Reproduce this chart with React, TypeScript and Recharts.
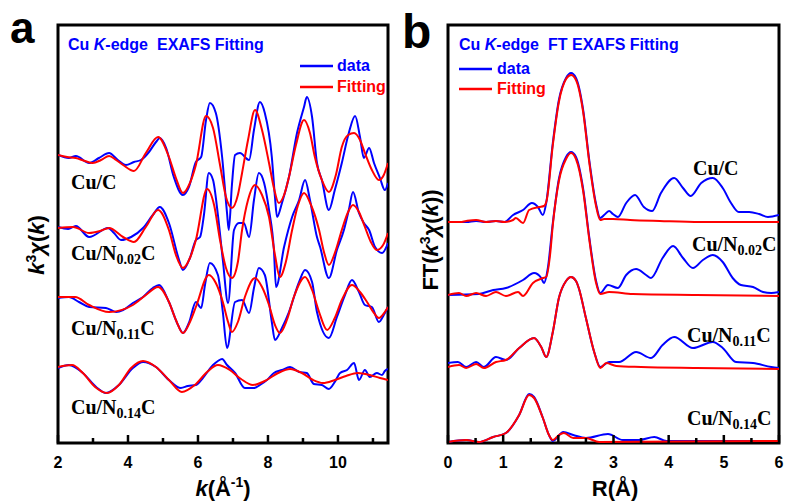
import React from 'react';
import { LineChart, Line, XAxis, YAxis, ReferenceArea } from 'recharts';

const BLUE = '#0000ff';
const RED = '#ff0000';
const SANS = "'Liberation Sans', Arial, sans-serif";
const SERIF = "'Liberation Serif', 'Times New Roman', serif";

// ---- panel a: k-space, [k, k3chi] relative to each trace's own baseline ----
const kTicks = [2, 3, 4, 5, 6, 7, 8, 9, 10, 11];
const kOffsets = [288, 215, 146, 75]; // Cu/C, Cu/N0.02C, Cu/N0.11C, Cu/N0.14C

const cuC_dataK = [
  [2.0, 0], [2.31, -3], [2.51, -1], [2.89, -8], [3.17, -3], [3.46, 2], [3.71, -5], [3.94, -10],
  [4.17, -7], [4.37, -5], [4.6, 3], [4.8, 13], [4.91, 17], [5.09, 7], [5.31, -22], [5.57, -40],
  [5.74, -32], [5.94, -7], [6.09, -2], [6.23, 35], [6.34, 52], [6.51, 42], [6.69, -2], [6.83, -58],
  [6.88, -75], [6.97, -30], [7.06, 0], [7.2, 2], [7.46, -5], [7.6, 25], [7.77, 53], [7.91, 42],
  [8.11, -2], [8.2, -42], [8.26, -62], [8.4, -48], [8.6, -22], [8.83, 22], [9.03, 48], [9.11, 58],
  [9.26, 38], [9.4, -8], [9.54, -25], [9.74, -55], [9.91, -35], [10.11, -8], [10.31, 22], [10.49, 39],
  [10.63, 18], [10.74, -3], [10.89, 7], [11.03, -8], [11.2, -23], [11.34, -35], [11.43, -28],
];
const cuC_fitK = [
  [2.0, 0], [2.26, -2], [2.51, -3], [2.77, -6], [2.99, -8], [3.23, -5], [3.46, -1], [3.66, -5],
  [3.86, -10], [4.17, -16], [4.51, 2], [4.86, 18], [5.17, -2], [5.37, -23], [5.57, -38], [5.77, -28],
  [5.94, -10], [6.23, 39], [6.43, 27], [6.63, -10], [6.8, -42], [6.97, -53], [7.14, -40], [7.26, -18],
  [7.43, 15], [7.63, 45], [7.83, 25], [8.03, -8], [8.17, -33], [8.31, -48], [8.46, -40], [8.6, -22],
  [8.8, 10], [9.03, 35], [9.2, 22], [9.34, -2], [9.54, -25], [9.74, -37], [9.94, -20], [10.11, 8],
  [10.29, 20], [10.46, 22], [10.63, 15], [10.77, 2], [10.97, -15], [11.17, -25], [11.31, -20], [11.43, -8],
];
const cuN002_dataK = [
  [2.0, 1], [2.29, -1], [2.51, 2], [2.89, -9], [3.43, 0], [3.6, -5], [3.8, -12], [4.09, -9],
  [4.43, 0], [4.71, 13], [4.91, 21], [5.17, 5], [5.46, -32], [5.57, -42], [5.77, -30], [5.94, -12],
  [6.06, -9], [6.17, 13], [6.31, 55], [6.43, 48], [6.57, 13], [6.71, -32], [6.86, -75], [7.03, -2],
  [7.17, 5], [7.31, 5], [7.46, -9], [7.6, 28], [7.74, 55], [7.89, 45], [8.03, 18], [8.17, -22],
  [8.23, -59], [8.46, -19], [8.69, 11], [8.89, 28], [9.06, 48], [9.2, 28], [9.4, -9], [9.49, -19],
  [9.74, -50], [9.97, -22], [10.17, -2], [10.31, 18], [10.43, 36], [10.6, 15], [10.74, 5], [10.89, -2],
  [11.06, -19], [11.26, -25], [11.43, -15],
];
const cuN002_fitK = [
  [2.0, 0], [2.43, 1], [2.89, -5], [3.2, -3], [3.46, 0], [3.86, -9], [4.17, -14], [4.51, 1],
  [4.86, 18], [5.17, -2], [5.37, -27], [5.57, -40], [5.77, -30], [5.94, -12], [6.26, 39], [6.46, 23],
  [6.63, -12], [6.8, -40], [6.97, -50], [7.14, -34], [7.26, -2], [7.43, 28], [7.63, 43], [7.83, 33],
  [8.03, 11], [8.2, -27], [8.34, -49], [8.51, -34], [8.69, -2], [8.86, 23], [9.03, 35], [9.23, 23],
  [9.46, -2], [9.6, -24], [9.74, -37], [9.94, -22], [10.11, -2], [10.29, 16], [10.43, 23], [10.6, 16],
  [10.77, 1], [10.94, -14], [11.11, -22], [11.29, -17], [11.43, -5],
];
const cuN011_dataK = [
  [2.0, -1], [2.31, 0], [2.6, -5], [2.89, -10], [3.37, -11], [3.66, -15], [3.86, -13], [4.14, -6],
  [4.43, 0], [4.71, 9], [4.89, 12], [5.17, -5], [5.43, -28], [5.57, -36], [5.74, -26], [5.94, -5],
  [6.09, -11], [6.2, 12], [6.34, 34], [6.57, 22], [6.71, -15], [6.83, -51], [7.06, -5], [7.26, -3],
  [7.46, -16], [7.6, 9], [7.74, 29], [7.91, 22], [8.11, -25], [8.2, -43], [8.4, -31], [8.6, -15],
  [8.89, 15], [9.06, 27], [9.26, 15], [9.4, -15], [9.74, -41], [9.97, -20], [10.2, 2], [10.4, 17],
  [10.6, 5], [10.77, -8], [10.97, -10], [11.17, -25], [11.31, -18], [11.43, -10],
];
const cuN011_fitK = [
  [2.0, 0], [2.49, 0], [2.89, -8], [3.46, -15], [4.14, -8], [4.51, 2], [4.86, 10], [5.17, -5],
  [5.37, -23], [5.57, -36], [5.77, -25], [5.94, -10], [6.31, 22], [6.51, 14], [6.71, -5], [6.86, -25],
  [6.97, -35], [7.14, -25], [7.34, 0], [7.63, 19], [7.83, 10], [8.03, -8], [8.2, -28], [8.34, -36],
  [8.54, -23], [8.74, 0], [9.06, 20], [9.26, 7], [9.46, -15], [9.69, -33], [9.91, -21], [10.11, -3],
  [10.4, 12], [10.63, 5], [10.83, -5], [11.03, -16], [11.17, -21], [11.34, -15], [11.43, -10],
];
const cuN014_dataK = [
  [2.0, 0], [2.31, 3], [2.71, -5], [3.09, -19], [3.37, -25], [3.74, -17], [4.14, 0], [4.43, 6],
  [4.8, 1], [5.17, -12], [5.51, -20], [5.71, -18], [5.94, -17], [6.14, -10], [6.43, 3], [6.57, 7],
  [6.69, 9], [6.83, 3], [7.06, -5], [7.34, -20], [7.6, -20], [7.77, -17], [7.97, -12], [8.17, -5],
  [8.4, -2], [8.63, 1], [8.89, -4], [9.11, -5], [9.31, -16], [9.54, -17], [9.74, -21], [9.91, -14],
  [10.06, -5], [10.26, -2], [10.46, 5], [10.6, -12], [10.77, -2], [10.91, -9], [11.11, -5], [11.26, -7],
  [11.34, -3], [11.43, -1],
];
const cuN014_fitK = [
  [2.0, 1], [2.4, 3], [2.71, -5], [3.06, -19], [3.4, -25], [3.74, -17], [4.09, 0], [4.43, 7],
  [4.8, 1], [5.17, -12], [5.54, -24], [5.91, -17], [6.26, -4], [6.57, 3], [6.91, -2], [7.23, -11],
  [7.57, -17], [7.91, -13], [8.29, -5], [8.63, -1], [8.97, -5], [9.29, -12], [9.57, -15], [9.91, -12],
  [10.23, -8], [10.57, -5], [10.91, -7], [11.2, -10], [11.43, -12],
];

// ---- panel b: R-space, [R, |FT|] relative to each trace's own baseline ----
const rTicks = [0, 0.5, 1, 1.5, 2, 2.5, 3, 3.5, 4, 4.5, 5, 5.5, 6];
const rOffsets = [221, 148, 76, 2];

const cuC_dataR = [
  [0.0, 0], [0.33, 0], [0.51, 1], [0.69, 0], [0.87, 1], [1.02, 0], [1.18, 7], [1.36, 12],
  [1.52, 19], [1.63, 15], [1.72, 7], [1.78, 19], [1.9, 79], [2.01, 122], [2.14, 144], [2.23, 149],
  [2.32, 144], [2.45, 112], [2.56, 62], [2.68, 19], [2.76, 4], [2.83, 7], [2.92, 11], [2.99, 8],
  [3.08, 5], [3.23, 19], [3.39, 27], [3.55, 15], [3.7, 11], [3.86, 29], [4.1, 44], [4.26, 34],
  [4.4, 26], [4.59, 39], [4.8, 44], [4.98, 34], [5.13, 19], [5.27, 10], [5.46, 10], [5.64, 8],
  [5.8, 5], [6.0, 7],
];
const cuC_fitR = [
  [0.0, 0], [0.22, 0], [0.33, 1], [0.51, 2], [0.69, 0], [0.87, 1], [1.02, 0], [1.18, 2],
  [1.23, 4], [1.36, -1], [1.47, 12], [1.65, 15], [1.74, 16], [1.79, 22], [1.9, 77], [2.01, 120],
  [2.14, 143], [2.23, 147], [2.32, 142], [2.45, 110], [2.56, 60], [2.68, 17], [2.76, 2], [2.83, 3],
  [2.99, 3], [3.3, 2], [3.84, 1], [4.57, 0], [5.29, 0], [6.0, 0],
];
const cuN002_dataR = [
  [0.0, 0], [0.56, 1], [0.82, 5], [1.05, 7], [1.36, 15], [1.56, 22], [1.69, 17], [1.74, 12],
  [1.81, 27], [1.9, 72], [2.01, 116], [2.14, 138], [2.23, 143], [2.32, 138], [2.45, 106], [2.56, 58],
  [2.68, 15], [2.76, 2], [2.9, 10], [3.08, 7], [3.23, 20], [3.41, 26], [3.59, 20], [3.68, 17],
  [3.89, 37], [4.08, 49], [4.26, 37], [4.44, 27], [4.62, 35], [4.8, 40], [4.98, 33], [5.16, 17],
  [5.31, 10], [5.53, 8], [5.71, 3], [5.86, 2], [6.0, 3],
];
const cuN002_fitR = [
  [0.0, 0], [0.2, 2], [0.33, -1], [0.51, 2], [0.69, -1], [0.87, 3], [1.05, -1], [1.27, 3],
  [1.36, -1], [1.54, 12], [1.72, 17], [1.78, 18], [1.85, 40], [1.9, 70], [2.01, 114], [2.14, 136],
  [2.23, 142], [2.32, 136], [2.45, 104], [2.56, 56], [2.68, 13], [2.76, 1], [2.92, 3], [3.35, 1],
  [4.5, 0], [6.0, -1],
];
const cuN011_dataR = [
  [0.0, 4], [0.18, 5], [0.33, 0], [0.51, 5], [0.65, 0], [0.87, 10], [1.05, 7], [1.29, 19],
  [1.56, 29], [1.69, 20], [1.78, 10], [1.9, 35], [2.01, 69], [2.14, 86], [2.23, 90], [2.32, 86],
  [2.37, 79], [2.5, 49], [2.65, 15], [2.76, 0], [2.92, 5], [3.1, 5], [3.41, 15], [3.68, 9],
  [3.89, 22], [4.1, 30], [4.44, 19], [4.8, 25], [4.98, 19], [5.22, 5], [5.53, 4], [5.86, 0],
  [6.0, -1],
];
const cuN011_fitR = [
  [0.0, 0], [0.2, 2], [0.33, -1], [0.51, 3], [0.65, -1], [0.87, 5], [1.05, 7], [1.29, 19],
  [1.56, 29], [1.69, 20], [1.78, 10], [1.9, 35], [2.01, 69], [2.14, 86], [2.23, 90], [2.32, 86],
  [2.37, 79], [2.5, 49], [2.65, 15], [2.76, -1], [2.87, 4], [3.05, 1], [3.5, 0], [4.5, -1],
  [6.0, -2],
];
const cuN014_dataR = [
  [0.0, -1], [0.33, 1], [0.56, -1], [0.82, 4], [1.05, 8], [1.29, 26], [1.47, 47], [1.56, 44],
  [1.72, 23], [1.83, 6], [1.9, 0], [2.09, 9], [2.27, 6], [2.5, 3], [2.9, 7], [3.17, 1],
  [3.46, 1], [3.74, 4], [3.96, 0], [6.0, 0],
];
const cuN014_fitR = [
  [0.0, -1], [0.33, 1], [0.56, -1], [0.82, 4], [1.05, 8], [1.29, 26], [1.47, 46], [1.56, 43],
  [1.72, 23], [1.83, 6], [1.9, 1], [2.01, 6], [2.1, 8], [2.27, 3], [2.5, 3], [2.74, -1],
  [6.0, 0],
];

const kData = [cuC_dataK, cuN002_dataK, cuN011_dataK, cuN014_dataK];
const kFit = [cuC_fitK, cuN002_fitK, cuN011_fitK, cuN014_fitK];
const rData = [cuC_dataR, cuN002_dataR, cuN011_dataR, cuN014_dataR];
const rFit = [cuC_fitR, cuN002_fitR, cuN011_fitR, cuN014_fitR];

const toRows = (pts: number[][], offset: number) => pts.map(([x, y]) => ({ x, y: y + offset }));

// inward ticks, label only on the major ones
const makeTick = (isMajor: (v: number) => boolean) => (props: any) => {
  const { x, y, payload } = props;
  const major = isMajor(payload.value);
  return (
    <g>
      <line x1={x} x2={x} y1={y} y2={y - (major ? 8 : 5)} stroke="#000" strokeWidth={2.5} />
      {major && (
        <text x={x} y={y + 25} textAnchor="middle" fontFamily={SANS} fontWeight="bold" fontSize={16} fill="#000">
          {payload.value}
        </text>
      )}
    </g>
  );
};

const kTick = makeTick((v) => v % 2 === 0);
const rTick = makeTick((v) => Number.isInteger(v));

const series = (data: number[][][], fit: number[][][], offsets: number[]) => [
  ...data.map((d, i) => (
    <Line key={'d' + i} data={toRows(d, offsets[i])} dataKey="y" type="monotone" stroke={BLUE}
      strokeWidth={2} dot={false} activeDot={false} isAnimationActive={false} />
  )),
  ...fit.map((d, i) => (
    <Line key={'f' + i} data={toRows(d, offsets[i])} dataKey="y" type="monotone" stroke={RED}
      strokeWidth={2} dot={false} activeDot={false} isAnimationActive={false} />
  )),
];

const Sample = ({ x, y, sub }: { x: number; y: number; sub?: string }) => (
  <text x={x} y={y} fontFamily={SERIF} fontWeight="bold" fontSize={20} fill="#000">
    {sub ? (
      <>
        Cu/N<tspan fontSize={14} dy={4}>{sub}</tspan>
        <tspan dy={-4}>C</tspan>
      </>
    ) : (
      'Cu/C'
    )}
  </text>
);

export default function App() {
  return (
    <div style={{ position: 'absolute', left: 0, top: 0, width: 785, height: 501, background: '#fff' }}>
      <div style={{ position: 'absolute', left: 0, top: 0 }}>
        <LineChart width={400} height={501} margin={{ top: 25, left: 58, right: 12, bottom: 28 }}>
          <XAxis dataKey="x" type="number" domain={[2, 11.43]} ticks={kTicks} allowDataOverflow
            height={30} tickSize={0} tickMargin={0} tickLine={false} axisLine={false} tick={kTick} interval={0} />
          <YAxis type="number" domain={[0, 418]} hide allowDataOverflow />
          <ReferenceArea x1={2} x2={11.43} y1={0} y2={418} fill="none" stroke="#000" strokeWidth={3} fillOpacity={0} />
          {series(kData, kFit, kOffsets)}
        </LineChart>
      </div>
      <div style={{ position: 'absolute', left: 400, top: 0 }}>
        <LineChart width={385} height={501} margin={{ top: 25, left: 48, right: 6, bottom: 28 }}>
          <XAxis dataKey="x" type="number" domain={[0, 6]} ticks={rTicks} allowDataOverflow
            height={30} tickSize={0} tickMargin={0} tickLine={false} axisLine={false} tick={rTick} interval={0} />
          <YAxis type="number" domain={[0, 418]} hide allowDataOverflow />
          <ReferenceArea x1={0} x2={6} y1={0} y2={418} fill="none" stroke="#000" strokeWidth={3} fillOpacity={0} />
          {series(rData, rFit, rOffsets)}
        </LineChart>
      </div>
      <svg width={785} height={501} style={{ position: 'absolute', left: 0, top: 0, pointerEvents: 'none' }}>
        {/* panel letters */}
        <text x={10} y={43} fontFamily={SANS} fontWeight="bold" fontSize={44}>a</text>
        <text x={402} y={48} fontFamily={SANS} fontWeight="bold" fontSize={48}>b</text>

        {/* titles */}
        <text x={68} y={50} fontFamily={SANS} fontWeight="bold" fontSize={16} fill={BLUE}>
          Cu <tspan fontStyle="italic">K</tspan>-edge<tspan dx={9}>EXAFS Fitting</tspan>
        </text>
        <text x={459} y={50} fontFamily={SANS} fontWeight="bold" fontSize={16} fill={BLUE}>
          Cu <tspan fontStyle="italic">K</tspan>-edge<tspan dx={9}>FT EXAFS Fitting</tspan>
        </text>

        {/* legends */}
        <line x1={300} x2={333} y1={66} y2={66} stroke={BLUE} strokeWidth={2.5} />
        <text x={337} y={71} fontFamily={SANS} fontWeight="bold" fontSize={16} fill={BLUE}>data</text>
        <line x1={300} x2={333} y1={87} y2={87} stroke={RED} strokeWidth={2.5} />
        <text x={337} y={92} fontFamily={SANS} fontWeight="bold" fontSize={16} fill={RED}>Fitting</text>
        <line x1={459} x2={492} y1={69} y2={69} stroke={BLUE} strokeWidth={2.5} />
        <text x={497} y={74} fontFamily={SANS} fontWeight="bold" fontSize={16} fill={BLUE}>data</text>
        <line x1={459} x2={492} y1={89} y2={89} stroke={RED} strokeWidth={2.5} />
        <text x={497} y={94} fontFamily={SANS} fontWeight="bold" fontSize={16} fill={RED}>Fitting</text>

        {/* sample labels, panel a */}
        <Sample x={71} y={189} />
        <Sample x={71} y={260} sub="0.02" />
        <Sample x={71} y={335} sub="0.11" />
        <Sample x={71} y={414} sub="0.14" />
        {/* sample labels, panel b */}
        <Sample x={693} y={175} />
        <Sample x={692} y={251} sub="0.02" />
        <Sample x={687} y={342} sub="0.11" />
        <Sample x={687} y={425} sub="0.14" />

        {/* axis titles */}
        <text transform="translate(44,245) rotate(-90)" textAnchor="middle" fontFamily={SANS} fontWeight="bold" fontSize={22}>
          <tspan fontStyle="italic">k</tspan>
          <tspan fontSize={14} dy={-8}>3</tspan>
          <tspan dy={8} fontStyle="italic">χ</tspan>(<tspan fontStyle="italic">k</tspan>)
        </text>
        <text transform="translate(438,240) rotate(-90)" textAnchor="middle" fontFamily={SANS} fontWeight="bold" fontSize={22}>
          FT(<tspan fontStyle="italic">k</tspan>
          <tspan fontSize={14} dy={-8}>3</tspan>
          <tspan dy={8} fontStyle="italic">χ</tspan>(<tspan fontStyle="italic">k</tspan>))
        </text>
        <text x={223} y={496} textAnchor="middle" fontFamily={SANS} fontWeight="bold" fontSize={22}>
          <tspan fontStyle="italic">k</tspan>(Å<tspan fontSize={14} dy={-9}>-1</tspan>
          <tspan dy={9}>)</tspan>
        </text>
        <text x={615} y={496} textAnchor="middle" fontFamily={SANS} fontWeight="bold" fontSize={22}>R(Å)</text>
      </svg>
    </div>
  );
}
